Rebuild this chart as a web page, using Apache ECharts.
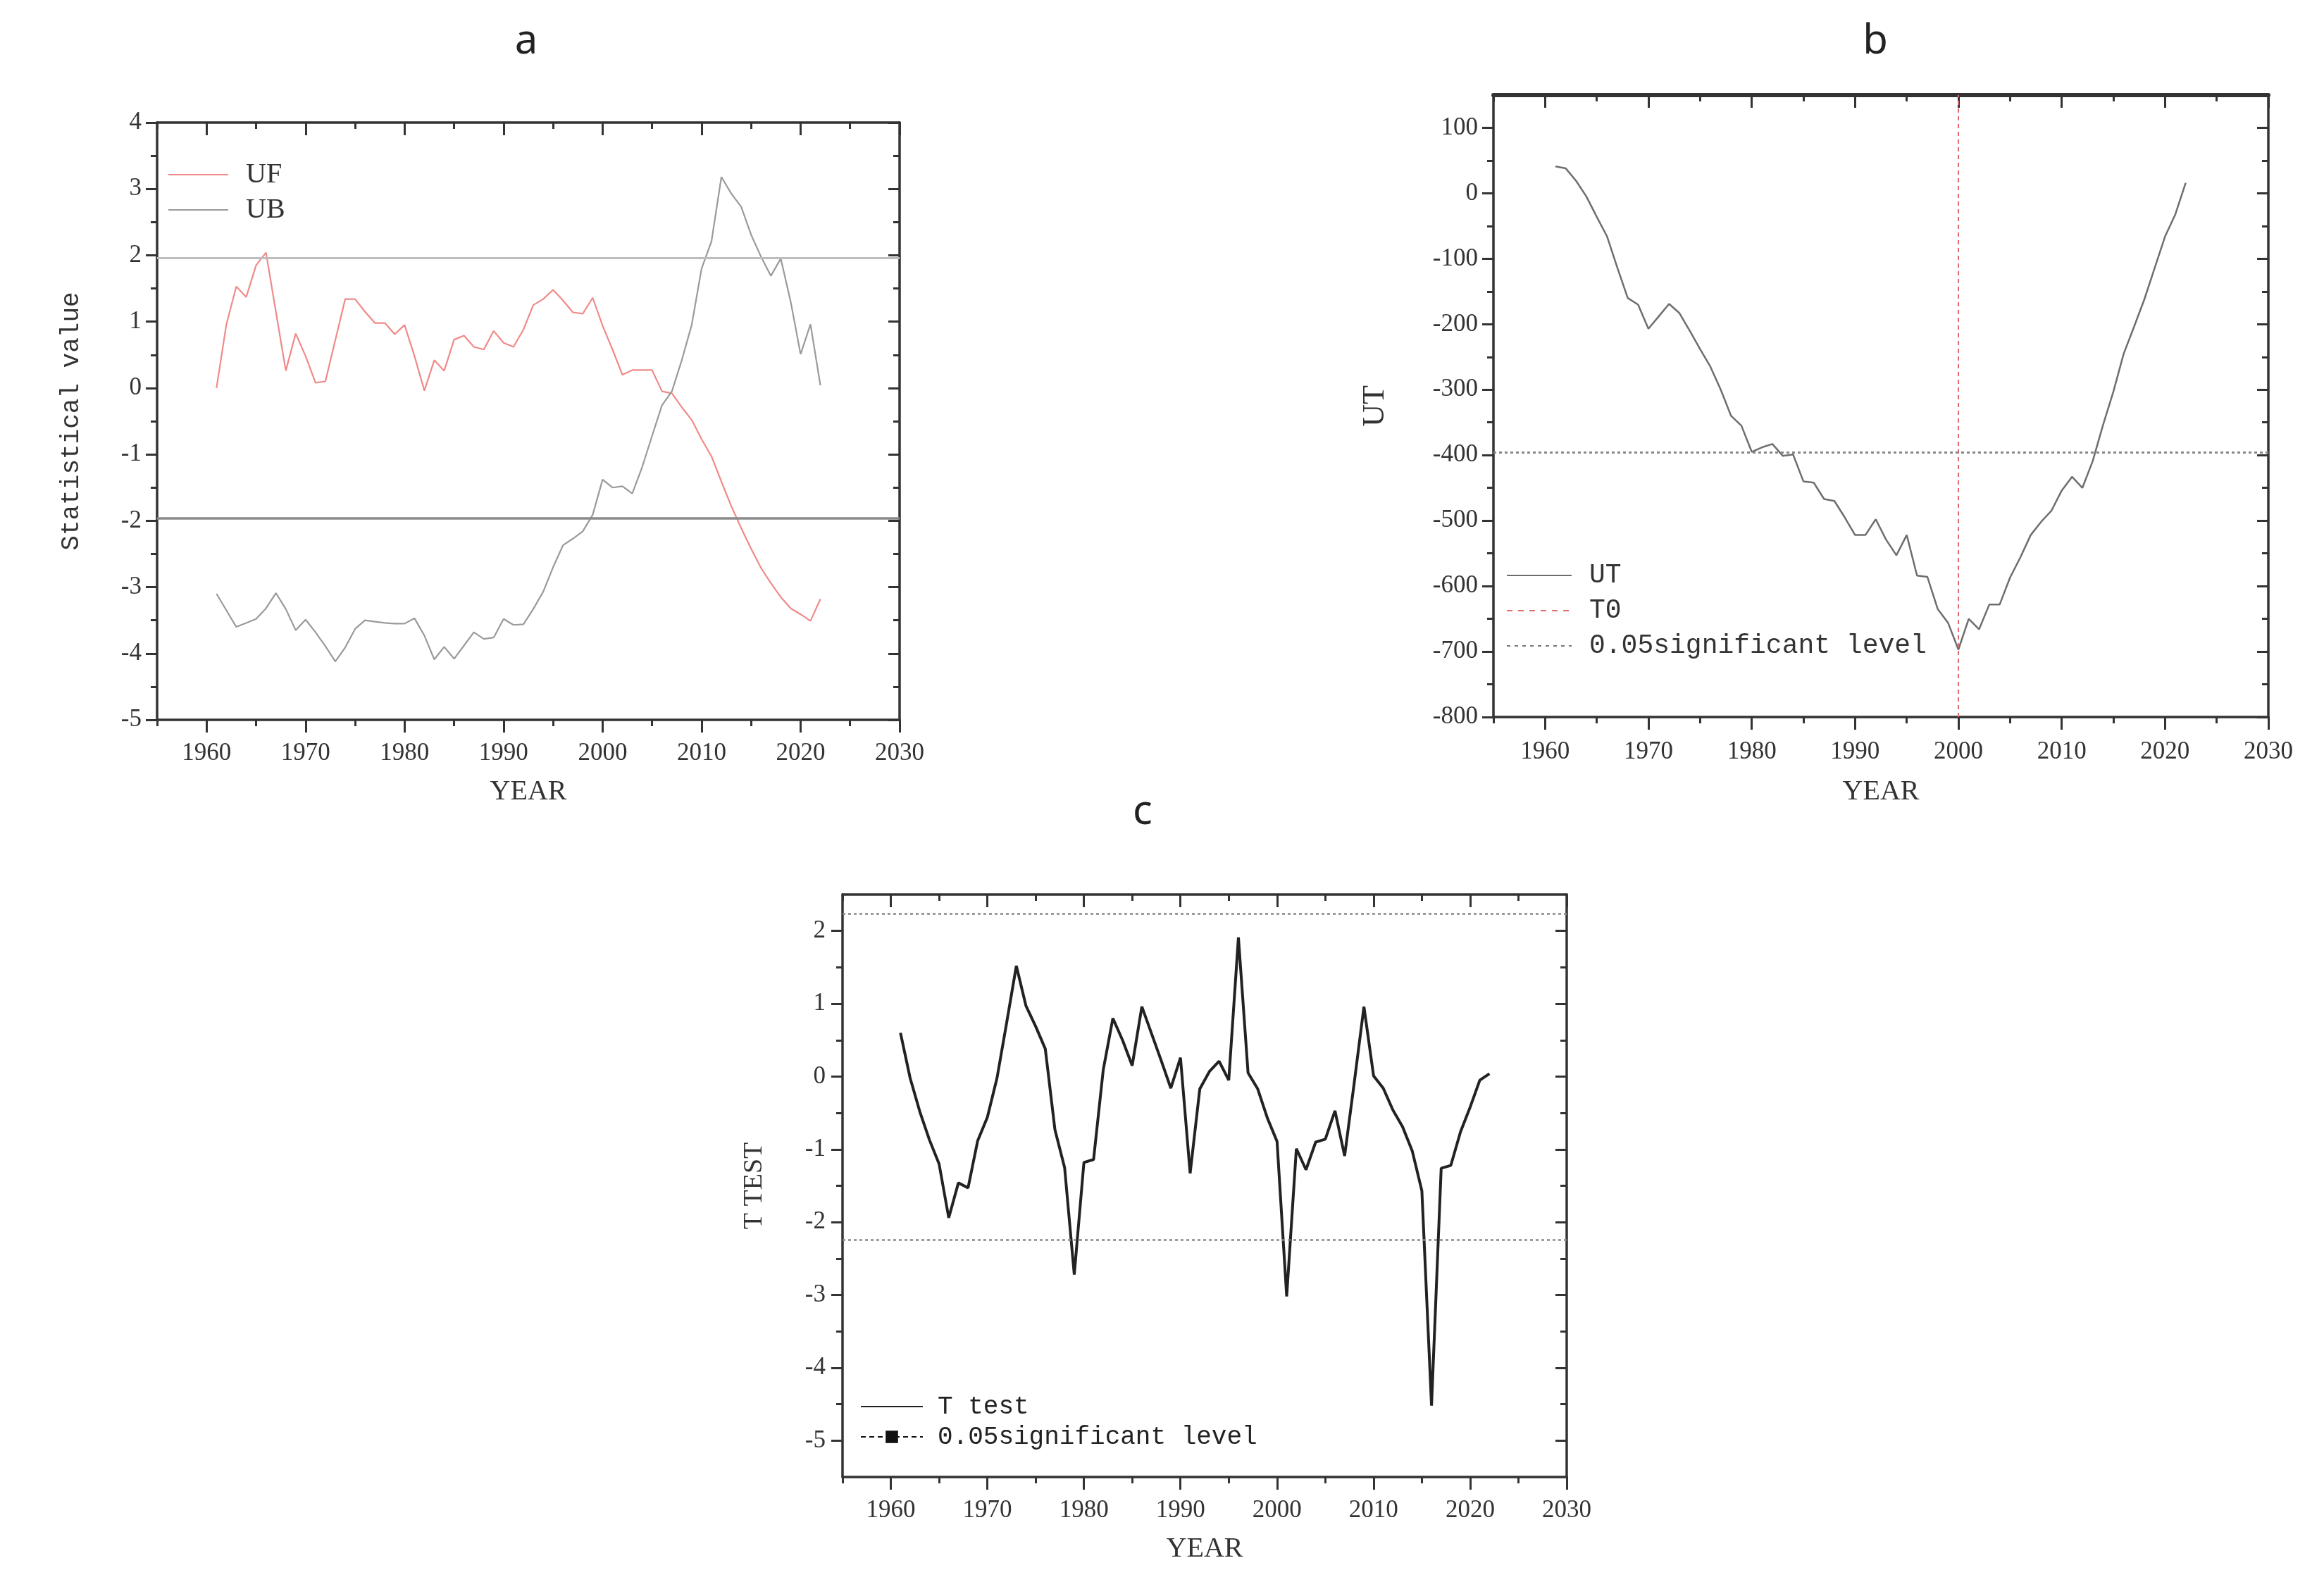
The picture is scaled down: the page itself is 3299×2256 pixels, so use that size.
<!DOCTYPE html>
<html>
<head>
<meta charset="utf-8">
<script src="https://cdn.jsdelivr.net/npm/echarts@6/dist/echarts.min.js"></script>
<style>html,body{margin:0;padding:0;background:#fff}#c{width:3299px;height:2256px}</style>
</head>
<body>
<div id="c"></div>
<script>
// ---------- data ----------
const years = [1961,1962,1963,1964,1965,1966,1967,1968,1969,1970,
  1971,1972,1973,1974,1975,1976,1977,1978,1979,1980,
  1981,1982,1983,1984,1985,1986,1987,1988,1989,1990,
  1991,1992,1993,1994,1995,1996,1997,1998,1999,2000,
  2001,2002,2003,2004,2005,2006,2007,2008,2009,2010,
  2011,2012,2013,2014,2015,2016,2017,2018,2019,2020,
  2021,2022];

const ufValues = [0.00,0.96,1.53,1.37,1.85,2.04,1.15,0.26,0.82,0.48,
  0.08,0.10,0.72,1.34,1.34,1.15,0.98,0.98,0.81,0.95,
  0.48,-0.04,0.42,0.26,0.73,0.79,0.62,0.58,0.86,0.68,
  0.62,0.88,1.25,1.34,1.48,1.32,1.14,1.12,1.36,0.94,
  0.58,0.20,0.27,0.27,0.27,-0.05,-0.08,-0.29,-0.48,-0.77,
  -1.03,-1.41,-1.78,-2.11,-2.42,-2.71,-2.94,-3.15,-3.32,-3.41,
  -3.51,-3.18];

const ubValues = [-3.10,-3.35,-3.60,-3.54,-3.48,-3.32,-3.09,-3.33,-3.65,-3.49,
  -3.68,-3.89,-4.12,-3.91,-3.63,-3.50,-3.52,-3.54,-3.55,-3.55,
  -3.47,-3.73,-4.09,-3.90,-4.08,-3.88,-3.68,-3.78,-3.76,-3.48,
  -3.57,-3.56,-3.33,-3.07,-2.70,-2.37,-2.27,-2.16,-1.91,-1.38,
  -1.50,-1.48,-1.59,-1.19,-0.72,-0.26,-0.05,0.42,0.95,1.80,
  2.21,3.18,2.93,2.73,2.31,1.98,1.69,1.95,1.30,0.51,
  0.96,0.04];

const utValues = [41,38,19,-5,-36,-66,-114,-160,-170,-207,
  -188,-169,-183,-210,-238,-265,-300,-340,-355,-395,
  -388,-383,-401,-399,-440,-442,-467,-470,-495,-522,
  -522,-498,-529,-553,-522,-584,-586,-635,-656,-697,
  -650,-666,-628,-628,-587,-556,-522,-502,-485,-454,
  -433,-450,-409,-354,-303,-245,-204,-162,-114,-66,
  -32,16];

const tTestValues = [0.60,-0.02,-0.48,-0.87,-1.20,-1.94,-1.46,-1.53,-0.88,-0.56,
  -0.02,0.74,1.52,0.97,0.69,0.38,-0.73,-1.25,-2.72,-1.18,
  -1.14,0.09,0.80,0.50,0.15,0.96,0.59,0.22,-0.16,0.26,
  -1.33,-0.17,0.07,0.21,-0.05,1.91,0.05,-0.17,-0.57,-0.89,
  -3.02,-0.99,-1.28,-0.90,-0.86,-0.47,-1.09,-0.08,0.96,0.01,
  -0.16,-0.46,-0.69,-1.02,-1.57,-4.52,-1.26,-1.22,-0.76,-0.42,
  -0.05,0.04];

// reference levels
const aSigLevel = 1.96;
const bSigLevel = -396;
const bChangeYear = 2000;
const cSigLevel = 2.24;

// ticks / labels
const xRange = [1955, 2030];
const xMajorTicks = [1960,1970,1980,1990,2000,2010,2020,2030];
const xMinorTicks = [1955,1965,1975,1985,1995,2005,2015,2025];
const aYRange = [-5, 4];
const aYMajor = [-5,-4,-3,-2,-1,0,1,2,3,4];
const aYMinor = [-4.5,-3.5,-2.5,-1.5,-0.5,0.5,1.5,2.5,3.5];
const bYRange = [-800, 150];
const bYMajor = [-800,-700,-600,-500,-400,-300,-200,-100,0,100];
const bYMinor = [-750,-650,-550,-450,-350,-250,-150,-50,50];
const cYRange = [-5.5, 2.5];
const cYMajor = [-5,-4,-3,-2,-1,0,1,2];
const cYMinor = [-4.5,-3.5,-2.5,-1.5,-0.5,0.5,1.5];

// ---------- helpers ----------
const AX = '#333';
const tickFont = {fontFamily:'Liberation Serif', fontSize:35, color:'#333'};
const plain = v => String(v);
const pairs = vals => years.map((y, i) => [y, vals[i]]);

function xAxes(grid, o) {
  const base = {type:'value', gridIndex:grid, min:xRange[0], max:xRange[1], splitLine:{show:false}};
  const tl = {color:AX, width:3};
  return [
    Object.assign({}, base, {position:'bottom',
      axisLine:{show:true, onZero:false, lineStyle:{color:AX, width:3.5}},
      axisTick:{show:true, inside:false, customValues:xMajorTicks, length:18, lineStyle:tl},
      axisLabel:Object.assign({show:true, customValues:xMajorTicks, margin:o.labelMargin, formatter:plain}, tickFont),
      name:'YEAR', nameLocation:'middle', nameGap:o.nameGap,
      nameTextStyle:{fontFamily:'Liberation Serif', fontSize:40, color:'#333'}}),
    Object.assign({}, base, {position:'bottom',
      axisLine:{show:false, onZero:false},
      axisTick:{show:true, inside:false, customValues:xMinorTicks, length:9, lineStyle:tl},
      axisLabel:{show:false}}),
    Object.assign({}, base, {position:'top',
      axisLine:{show:true, onZero:false, lineStyle:{color:AX, width:o.topWidth}},
      axisTick:{show:true, inside:true, customValues:xMajorTicks, length:18, lineStyle:tl},
      axisLabel:{show:false}}),
    Object.assign({}, base, {position:'top',
      axisLine:{show:false, onZero:false},
      axisTick:{show:true, inside:true, customValues:xMinorTicks, length:9, lineStyle:tl},
      axisLabel:{show:false}})
  ];
}

function yAxes(grid, range, major, minor, o) {
  const base = {type:'value', gridIndex:grid, min:range[0], max:range[1], splitLine:{show:false}};
  const tl = {color:AX, width:3};
  return [
    Object.assign({}, base, {position:'left',
      axisLine:{show:true, onZero:false, lineStyle:{color:AX, width:3.5}},
      axisTick:{show:true, inside:false, customValues:major, length:16, lineStyle:tl},
      axisLabel:Object.assign({show:true, customValues:major, margin:o.labelMargin, formatter:plain}, tickFont),
      name:o.name, nameLocation:'middle', nameGap:o.nameGap, nameRotate:90,
      nameTextStyle:o.nameStyle}),
    Object.assign({}, base, {position:'left',
      axisLine:{show:false, onZero:false},
      axisTick:{show:true, inside:false, customValues:minor, length:9, lineStyle:tl},
      axisLabel:{show:false}}),
    Object.assign({}, base, {position:'right',
      axisLine:{show:true, onZero:false, lineStyle:{color:AX, width:3.5}},
      axisTick:{show:true, inside:true, customValues:major, length:16, lineStyle:tl},
      axisLabel:{show:false}}),
    Object.assign({}, base, {position:'right',
      axisLine:{show:false, onZero:false},
      axisTick:{show:true, inside:true, customValues:minor, length:9, lineStyle:tl},
      axisLabel:{show:false}})
  ];
}

const legendLabels = {UF:'UF', UB:'UB', UT:'UT', T0:'T0',
  sigB:'0.05significant level', 'T test':'T test', sigC:'0.05significant level'};
const noSymbol = name => ({name:name, itemStyle:{opacity:0}});

const option = {
  animation:false,
  backgroundColor:'#fff',
  grid:[
    {left:223, top:174, width:1054, height:848, outerBoundsMode:'none', containLabel:false},
    {left:2120, top:135, width:1100, height:883, outerBoundsMode:'none', containLabel:false},
    {left:1196, top:1270, width:1028, height:827, outerBoundsMode:'none', containLabel:false}
  ],
  xAxis:[].concat(
    xAxes(0, {labelMargin:30, nameGap:82, topWidth:3.5}),
    xAxes(1, {labelMargin:32, nameGap:86, topWidth:6}),
    xAxes(2, {labelMargin:30, nameGap:82, topWidth:3.5})
  ),
  yAxis:[].concat(
    yAxes(0, aYRange, aYMajor, aYMinor, {labelMargin:22, name:'Statistical value', nameGap:104,
      nameStyle:{fontFamily:'Liberation Mono', fontSize:36, color:'#333'}}),
    yAxes(1, bYRange, bYMajor, bYMinor, {labelMargin:22, name:'UT', nameGap:146,
      nameStyle:{fontFamily:'Liberation Serif', fontSize:44, color:'#333'}}),
    yAxes(2, cYRange, cYMajor, cYMinor, {labelMargin:24, name:'T TEST', nameGap:106,
      nameStyle:{fontFamily:'Liberation Serif', fontSize:38, color:'#333'}})
  ),
  legend:[
    {data:[noSymbol('UF'), noSymbol('UB')], orient:'vertical', left:233, top:223, itemWidth:85, itemHeight:20, itemGap:10,
      selectedMode:false, formatter:n => legendLabels[n],
      textStyle:{fontFamily:'Liberation Serif', fontSize:40, lineHeight:40, color:'#333', padding:[0,0,0,20]}},
    {data:[noSymbol('UT'), noSymbol('T0'), noSymbol('sigB')], orient:'vertical', left:2133, top:793, itemWidth:92, itemHeight:20, itemGap:12,
      selectedMode:false, formatter:n => legendLabels[n],
      textStyle:{fontFamily:'Liberation Mono', fontSize:38, lineHeight:38, color:'#333', padding:[0,0,0,20]}},
    {data:[noSymbol('T test'), 'sigC'], orient:'vertical', left:1216, top:1974, itemWidth:88, itemHeight:22, itemGap:7,
      selectedMode:false, formatter:n => legendLabels[n],
      textStyle:{fontFamily:'Liberation Mono', fontSize:36, lineHeight:36, color:'#222', padding:[0,0,0,16]}}
  ],
  graphic:[
    {type:'text', x:747, y:59, style:{text:'a', font:'58px "Noto Sans"', fill:'#222', align:'center', verticalAlign:'middle'}},
    {type:'text', x:2662, y:59, style:{text:'b', font:'58px "Noto Sans"', fill:'#222', align:'center', verticalAlign:'middle'}},
    {type:'text', x:1622, y:1153, style:{text:'c', font:'58px "Noto Sans"', fill:'#222', align:'center', verticalAlign:'middle'}}
  ],
  series:[
    {name:'UF', type:'line', xAxisIndex:0, yAxisIndex:0, data:pairs(ufValues), symbol:'none',
      color:'#f08a8a', lineStyle:{color:'#f08a8a', width:2.2},
      markLine:{silent:true, symbol:'none', label:{show:false}, animation:false,
        data:[
          {yAxis:aSigLevel, lineStyle:{color:'#bdbdbd', width:3, type:'solid'}},
          {yAxis:-aSigLevel, lineStyle:{color:'#8a8a8a', width:3.5, type:'solid'}}
        ]}},
    {name:'UB', type:'line', xAxisIndex:0, yAxisIndex:0, data:pairs(ubValues), symbol:'none',
      color:'#9a9a9a', lineStyle:{color:'#9a9a9a', width:2.2}},

    {name:'UT', type:'line', xAxisIndex:4, yAxisIndex:4, data:pairs(utValues), symbol:'none',
      color:'#6e6e6e', lineStyle:{color:'#6e6e6e', width:2.5}},
    {name:'T0', type:'line', xAxisIndex:4, yAxisIndex:4, data:[], symbol:'none',
      color:'#e07070', lineStyle:{color:'#e07070', width:2, type:[8,8]},
      markLine:{silent:true, symbol:'none', label:{show:false}, animation:false,
        data:[{xAxis:bChangeYear, lineStyle:{color:'#e06a6a', width:2, type:[6,5]}}]}},
    {name:'sigB', type:'line', xAxisIndex:4, yAxisIndex:4, data:[], symbol:'none',
      color:'#777', lineStyle:{color:'#777', width:2.5, type:[5,6]},
      markLine:{silent:true, symbol:'none', label:{show:false}, animation:false,
        data:[{yAxis:bSigLevel, lineStyle:{color:'#888', width:3, type:[4,4]}}]}},

    {name:'T test', type:'line', xAxisIndex:8, yAxisIndex:8, data:pairs(tTestValues), symbol:'none',
      color:'#222', lineStyle:{color:'#222', width:4}},
    {name:'sigC', type:'line', xAxisIndex:8, yAxisIndex:8, data:[], symbol:'rect', symbolSize:16,
      color:'#111', lineStyle:{color:'#111', width:3, type:[7,5]},
      markLine:{silent:true, symbol:'none', label:{show:false}, animation:false,
        data:[
          {yAxis:cSigLevel, lineStyle:{color:'#888', width:2.5, type:[4,4]}},
          {yAxis:-cSigLevel, lineStyle:{color:'#888', width:2.5, type:[4,4]}}
        ]}}
  ]
};

const chart = echarts.init(document.getElementById('c'), null, {renderer:'canvas', width:3299, height:2256});
chart.setOption(option);
</script>
</body>
</html>
